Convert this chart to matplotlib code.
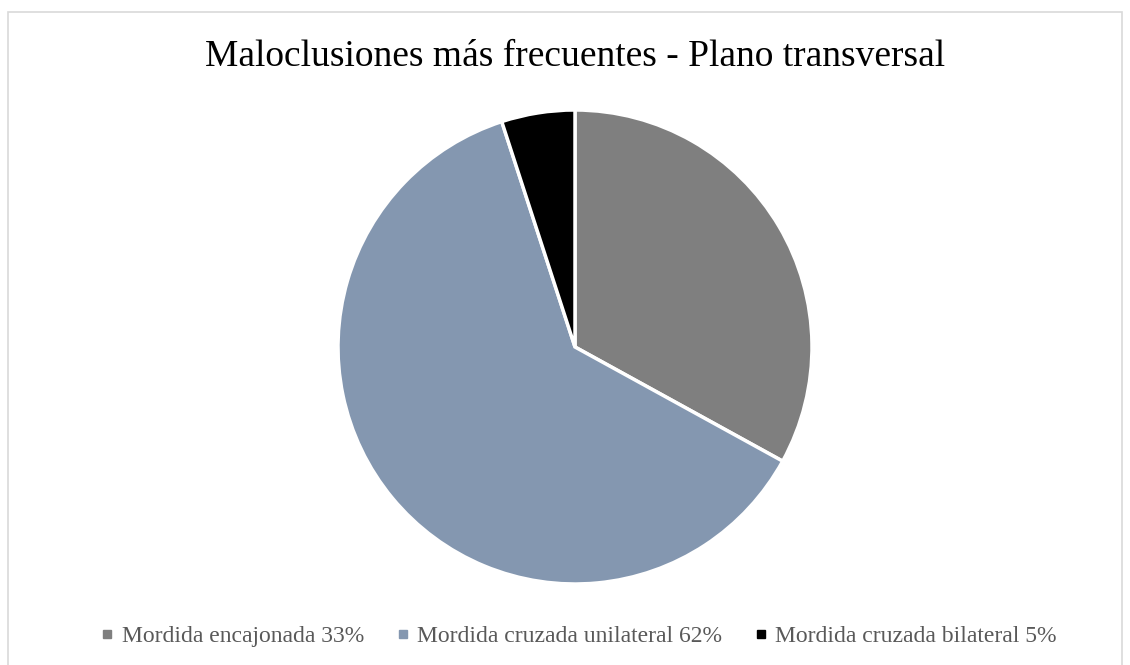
import matplotlib
matplotlib.use('Agg')
import matplotlib.pyplot as plt
from matplotlib.patches import Rectangle
from matplotlib.lines import Line2D

# data
labels = ['Mordida encajonada', 'Mordida cruzada unilateral', 'Mordida cruzada bilateral']
values = [33, 62, 5]
colors = ['#7f7f7f', '#8497b0', '#000000']
title = 'Maloclusiones más frecuentes - Plano transversal'

plt.rcParams['font.family'] = ['Liberation Serif', 'DejaVu Serif']

fig = plt.figure(figsize=(11.3, 6.65), dpi=100)

# light border around chart area
fig.patches.append(Rectangle((8 / 1130, -0.1), 1114 / 1130, 1.1 - 12 / 665,
                             transform=fig.transFigure, fill=False,
                             edgecolor='#d9d9d9', linewidth=1.2))

fig.text(575 / 1130, 1 - 57 / 665, title, ha='center', va='center',
         fontsize=27, color='#000000')

# pie axes: center (575, 347), radius 237 px
r = 237
ax = fig.add_axes([(575 - r) / 1130, 1 - (347 + r) / 665, 2 * r / 1130, 2 * r / 665])
ax.pie(values, colors=colors, startangle=90, counterclock=False,
       wedgeprops=dict(edgecolor='white', linewidth=2.5))
ax.set_xlim(-1, 1)
ax.set_ylim(-1, 1)
ax.set_aspect('auto')
ax.axis('off')

handles = [Line2D([], [], marker='s', linestyle='', markersize=6,
                  markerfacecolor=c, markeredgecolor=c) for c in colors]
leg_labels = [f'{l} {v}%' for l, v in zip(labels, values)]
fig.legend(handles, leg_labels, loc='center', bbox_to_anchor=(579 / 1130, 1 - 636 / 665),
           ncol=3, frameon=False, fontsize=17, labelcolor='#595959',
           handlelength=0.5, handletextpad=0.35, columnspacing=1.4)

fig.savefig('out.png', dpi=100)
